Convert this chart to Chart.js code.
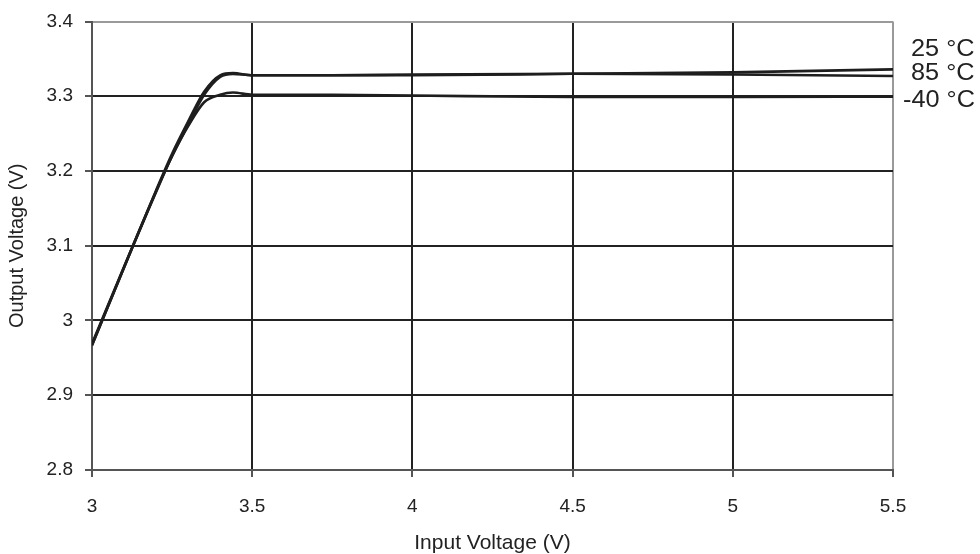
<!DOCTYPE html>
<html><head><meta charset="utf-8">
<script src="https://cdn.jsdelivr.net/npm/chart.js@4/dist/chart.umd.min.js"></script>
<style>html,body{margin:0;padding:0;background:#fff}#w{width:980px;height:554px}</style>
</head><body><div id="w"><canvas id="c"></canvas></div>
<script>
const inputV = [3.0, 3.1, 3.2, 3.25, 3.3, 3.35, 3.4, 3.44, 3.5, 3.75, 4.0, 4.5, 5.0, 5.5];
const out25 = [2.967, 3.071, 3.172, 3.220, 3.262, 3.302, 3.326, 3.330, 3.328, 3.328, 3.328, 3.330, 3.332, 3.336];
const out85 = [2.967, 3.071, 3.174, 3.223, 3.266, 3.306, 3.328, 3.331, 3.328, 3.328, 3.329, 3.330, 3.329, 3.327];
const outM40 = [2.969, 3.072, 3.173, 3.220, 3.260, 3.292, 3.302, 3.305, 3.302, 3.302, 3.301, 3.299, 3.299, 3.2995];
const seriesNames = ['25 °C', '85 °C', '-40 °C'];
const nameY = [3.3627, 3.3307, 3.2947];
const xTicks = [3, 3.5, 4, 4.5, 5, 5.5];
const yTicks = [2.8, 2.9, 3, 3.1, 3.2, 3.3, 3.4];

const FONT = '"Liberation Sans", Arial, sans-serif';
const mk = (arr) => inputV.map((x, i) => ({x, y: arr[i]}));
const ds = [out25, out85, outM40].map((a, i) => ({
  label: seriesNames[i], data: mk(a), showLine: true, borderColor: '#1e1e1e',
  borderWidth: 2.6, pointRadius: 0, cubicInterpolationMode: 'monotone', fill: false
}));

const labelPlugin = {
  id: 'labels',
  afterDraw(chart) {
    const ctx = chart.ctx, ys = chart.scales.y;
    ctx.save();
    ctx.font = '23px ' + FONT;
    ctx.fillStyle = '#222';
    ctx.textAlign = 'left';
    ctx.textBaseline = 'middle';
    seriesNames.forEach((n, i) => {
      const x0 = n.startsWith('-') ? 903 : 911;
      const y0 = ys.getPixelForValue(nameY[i]);
      ctx.save();
      ctx.translate(x0, y0);
      ctx.scale(1.1, 1);
      ctx.fillText(n, 0, 0);
      ctx.restore();
    });
    ctx.restore();
  }
};

new Chart(document.getElementById('c'), {
  type: 'scatter',
  data: { datasets: ds },
  options: {
    responsive: true, maintainAspectRatio: false, animation: false,
    layout: { padding: { top: 20, right: 87, left: 0, bottom: 0 } },
    plugins: { legend: { display: false }, tooltip: { enabled: false } },
    scales: {
      x: {
        type: 'linear', min: 3, max: 5.5,
        afterBuildTicks: s => { s.ticks = xTicks.map(v => ({value: v})); },
        afterFit: s => { s.height = 84; },
        grid: {
          color: c => (c.tick && c.tick.value === 5.5) ? '#9a9a9a' : (c.tick && c.tick.value === 3 ? '#555' : '#222'),
          lineWidth: 2, tickColor: '#555', tickLength: 7, drawTicks: true
        },
        border: { display: true, color: '#555', width: 2 },
        ticks: { color: '#222', padding: 20, font: { size: 19, family: FONT, lineHeight: 1 },
          callback: v => String(v) },
        title: { display: true, text: 'Input Voltage (V)', color: '#222', padding: { top: 4, bottom: -2 },
          font: { size: 21, family: FONT } }
      },
      y: {
        min: 2.8, max: 3.4,
        afterBuildTicks: s => { s.ticks = yTicks.map(v => ({value: v})); },
        afterFit: s => { s.width = 92; },
        grid: {
          color: c => (c.tick && Math.abs(c.tick.value - 3.4) < 1e-6) ? '#9a9a9a' : (c.tick && Math.abs(c.tick.value - 2.8) < 1e-6 ? '#555' : '#222'),
          lineWidth: 2, tickColor: '#555', tickLength: 7, drawTicks: true
        },
        border: { display: true, color: '#555', width: 2 },
        ticks: { color: '#222', padding: 12, font: { size: 19, family: FONT, lineHeight: 1 },
          callback: v => String(Math.round(v * 10) / 10) },
        title: { display: true, text: 'Output Voltage (V)', color: '#222', padding: { top: 5, bottom: 2 },
          font: { size: 20, family: FONT } }
      }
    }
  },
  plugins: [labelPlugin]
});
</script></body></html>
